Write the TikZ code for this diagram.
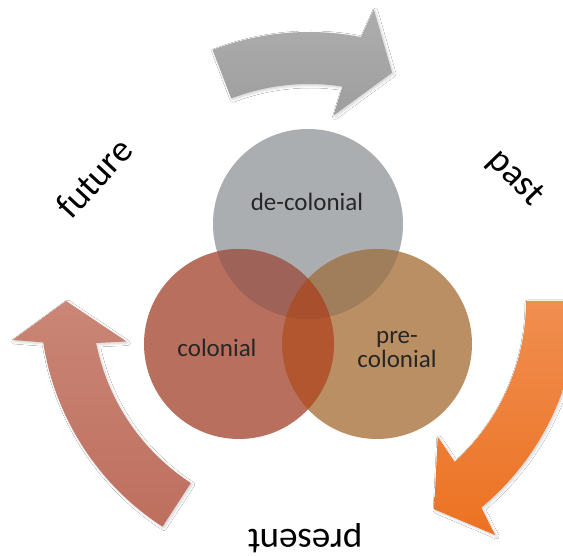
\documentclass[tikz,border=0pt]{standalone}
\usepackage{fontspec}
\setmainfont{Carlito}
\usetikzlibrary{shadows.blur}
\definecolor{grayC}{HTML}{ABAEB1}
\definecolor{leftC}{HTML}{B86F5E}
\definecolor{rightC}{HTML}{BA8F63}
\definecolor{tlC}{HTML}{9E6258}
\definecolor{trC}{HTML}{A07E5C}
\definecolor{lrC}{HTML}{B2562F}
\definecolor{allC}{HTML}{A8502E}
\newcommand\cycarrow[4]{%
  \path[#4] (#1:217pt) -- (#1:269pt)
    arc[start angle=#1, end angle={#2-1.16}, radius=269pt]
    -- ({#2-2.5}:299pt) -- (#3:243pt) -- ({#2+2.5}:187pt)
    -- ({#2+1.16}:217pt)
    arc[start angle={#2+1.16}, end angle=#1, radius=217pt] -- cycle;}
\tikzset{
  arrowshadow/.style={blur shadow={shadow blur steps=6, shadow xshift=1.5pt, shadow yshift=-1.5pt, shadow opacity=18, shadow blur radius=2.5pt}},
  circlabel/.style={font=\fontsize{25}{24}\selectfont, text=black!85, align=center},
  outerlabel/.style={font=\fontsize{37}{40}\selectfont, text=black}
}
\begin{document}
\begin{tikzpicture}[x=1pt,y=1pt]
\useasboundingbox (0,0) rectangle (563,556);
\fill[white] (0,0) rectangle (563,556);
% circle centres
\coordinate (T) at (308,332);
\coordinate (L) at (239,212);
\coordinate (R) at (377,212);
\coordinate (C) at (309,255);
% arrows
\begin{scope}[shift={(C)}]
  \cycarrow{111}{80}{70}{arrowshadow, top color=gray!64, bottom color=gray!76}
  \cycarrow{0}{-49}{-59}{arrowshadow, top color={rgb,255:red,240;green,142;blue,80}, bottom color={rgb,255:red,236;green,114;blue,34}}
  \cycarrow{237}{190}{180}{arrowshadow, top color={rgb,255:red,202;green,134;blue,118}, bottom color={rgb,255:red,190;green,111;blue,94}}
\end{scope}
% circles
\fill[grayC] (T) circle[radius=95pt];
\fill[leftC] (L) circle[radius=95pt];
\fill[rightC] (R) circle[radius=95pt];
\begin{scope}
  \clip (T) circle[radius=95pt];
  \fill[tlC] (L) circle[radius=95pt];
  \fill[trC] (R) circle[radius=95pt];
\end{scope}
\begin{scope}
  \clip (L) circle[radius=95pt];
  \fill[lrC] (R) circle[radius=95pt];
\end{scope}
\begin{scope}
  \clip (T) circle[radius=95pt];
  \clip (L) circle[radius=95pt];
  \fill[allC] (R) circle[radius=95pt];
\end{scope}
% texts
\node[circlabel] (dec) at (307,354) {de-colonial};
\node[circlabel] (col) at (217,208) {colonial};
\node[circlabel] (pre) at (397,206) {pre-\\colonial};
\node[outerlabel, rotate=47] (future) at (94,378) {future};
\node[outerlabel, rotate=-46] (past) at (515,378) {past};
\node[outerlabel, rotate=180] (present) at (305,18) {present};
\end{tikzpicture}
\end{document}
